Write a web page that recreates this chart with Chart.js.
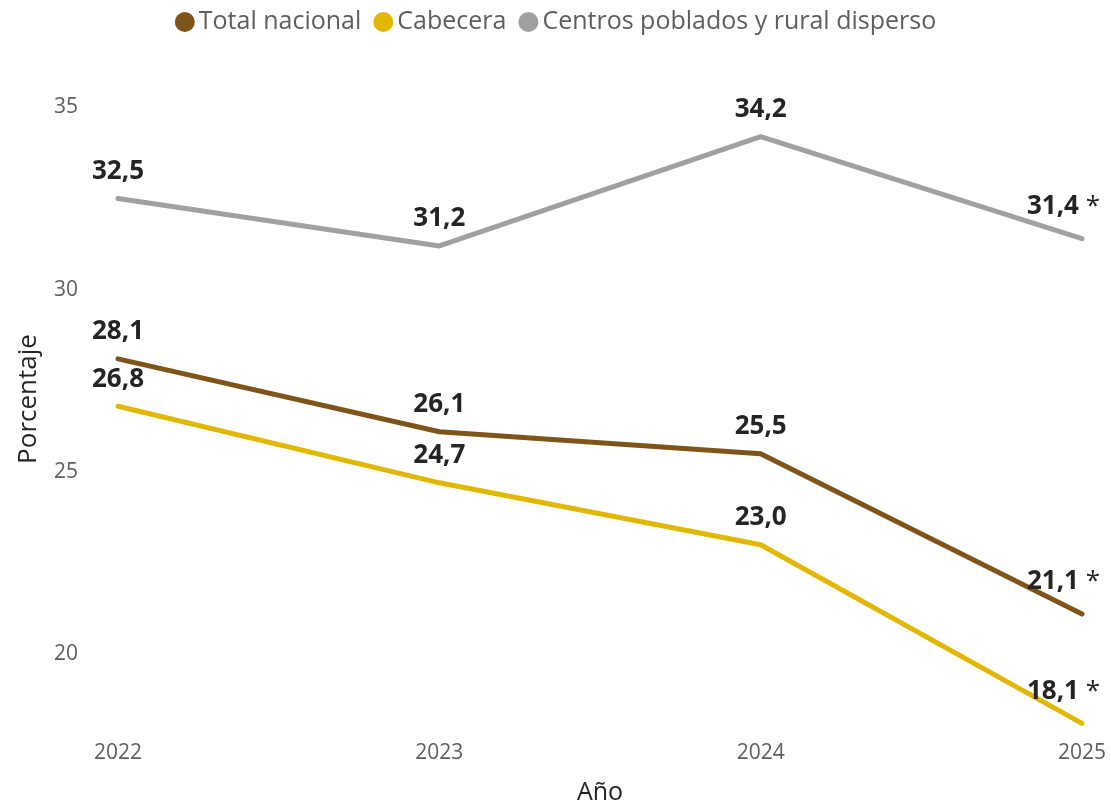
<!DOCTYPE html>
<html>
<head>
<meta charset="utf-8">
<script src="https://cdn.jsdelivr.net/npm/chart.js@4"></script>
<style>
  html, body { margin: 0; padding: 0; background: #fff; }
  #wrap { width: 1111px; height: 801px; }
</style>
</head>
<body>
<div id="wrap"><canvas id="chart" width="1111" height="801"></canvas></div>
<script>
const years = ["2022", "2023", "2024", "2025"];
const totalNacional = [28.1, 26.1, 25.5, 21.1];
const cabecera = [26.8, 24.7, 23.0, 18.1];
const centrosPoblados = [32.5, 31.2, 34.2, 31.4];
const yTicks = [20, 25, 30, 35];
const provisional = [false, false, false, true]; // marked with *

const FONT = "'Open Sans', 'Noto Sans', sans-serif";

function fmt(v) {
  return v.toFixed(1).replace(".", ",");
}

const legendPlugin = {
  id: "topLegend",
  afterDraw(c) {
    const ctx = c.ctx;
    const sets = c.data.datasets;
    ctx.save();
    ctx.font = "25px " + FONT;
    const r = 10, gap = 4, space = 12;
    let total = 0;
    const widths = sets.map(d => ctx.measureText(d.label).width);
    widths.forEach(w => total += r * 2 + gap + w);
    total += space * (sets.length - 1);
    let x = c.width / 2 - total / 2;
    const y = 22;
    sets.forEach((d, i) => {
      ctx.fillStyle = d.borderColor;
      ctx.beginPath();
      ctx.arc(x + r, y, r, 0, Math.PI * 2);
      ctx.fill();
      ctx.fillStyle = "#605E5C";
      ctx.textBaseline = "middle";
      ctx.textAlign = "left";
      ctx.fillText(d.label, x + r * 2 + gap, y);
      x += r * 2 + gap + widths[i] + space;
    });
    ctx.restore();
  }
};

const labelPlugin = {
  id: "valueLabels",
  afterDatasetsDraw(c) {
    const ctx = c.ctx;
    ctx.save();
    ctx.textBaseline = "middle";
    c.data.datasets.forEach((d, di) => {
      const meta = c.getDatasetMeta(di);
      meta.data.forEach((pt, i) => {
        const txt = fmt(d.data[i]);
        ctx.fillStyle = "#252423";
        if (provisional[i]) {
          ctx.font = "26px " + FONT;
          const starW = ctx.measureText(" *").width;
          const right = c.width - 11;
          ctx.textAlign = "right";
          ctx.fillText(" *", right, pt.y - 32);
          ctx.font = "bold 26px " + FONT;
          ctx.fillText(txt, right - starW, pt.y - 32);
        } else {
          ctx.font = "bold 26px " + FONT;
          ctx.textAlign = "center";
          ctx.fillText(txt, pt.x, pt.y - 27);
        }
      });
    });
    ctx.restore();
  }
};

const mk = (label, data, color) => ({
  label: label,
  data: data,
  borderColor: color,
  backgroundColor: color,
  borderWidth: 5,
  pointRadius: 0,
  borderCapStyle: "round",
  borderJoinStyle: "round",
  tension: 0,
  clip: false
});

new Chart(document.getElementById("chart"), {
  type: "line",
  data: {
    labels: years,
    datasets: [
      mk("Total nacional", totalNacional, "#7E5418"),
      mk("Cabecera", cabecera, "#E2B700"),
      mk("Centros poblados y rural disperso", centrosPoblados, "#A0A0A0")
    ]
  },
  options: {
    responsive: false,
    animation: false,
    layout: { padding: { top: 71, right: 29, left: 0, bottom: 0 } },
    plugins: {
      legend: { display: false },
      tooltip: { enabled: false }
    },
    scales: {
      x: {
        offset: false,
        grid: { display: false, drawTicks: false },
        border: { display: false },
        ticks: { color: "#605E5C", font: { family: FONT, size: 21 }, padding: 13, maxRotation: 0 },
        title: { display: true, text: "Año", color: "#252423", font: { family: FONT, size: 25 }, padding: { top: 0, bottom: -7 } },
        afterFit(s) { s.height = 74; s.paddingLeft = 0; s.paddingRight = 0; }
      },
      y: {
        min: 18,
        max: 36,
        grid: { display: false, drawTicks: false },
        border: { display: false },
        afterBuildTicks(s) { s.ticks = yTicks.map(v => ({ value: v })); },
        ticks: { color: "#605E5C", font: { family: FONT, size: 21 }, padding: 40 },
        title: { display: true, text: "Porcentaje", color: "#252423", font: { family: FONT, size: 26 }, padding: { top: 13, bottom: 0 } },
        afterFit(s) { s.width = 118; }
      }
    }
  },
  plugins: [legendPlugin, labelPlugin]
});
</script>
</body>
</html>
